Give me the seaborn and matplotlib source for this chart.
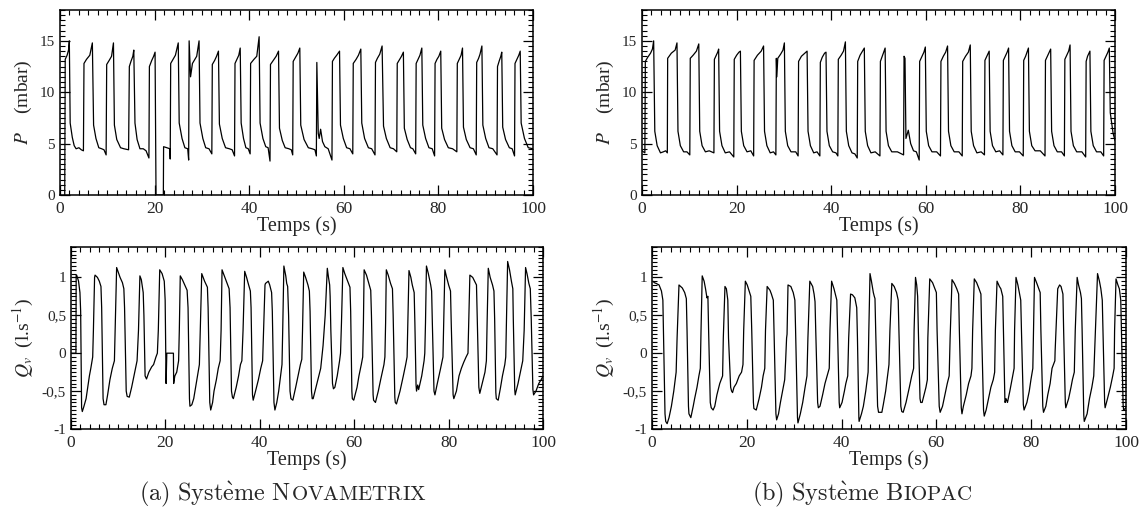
import matplotlib
matplotlib.use("Agg")
import matplotlib.pyplot as plt
from matplotlib.ticker import MultipleLocator, FuncFormatter
import seaborn as sns

# pressure, Novametrix system: (time s, P mbar) vertices
p_nova_pts = [
    (1.0, 0.0), (1.1, 13.2), (1.5, 13.6), (1.8, 14.1), (1.97, 15.0), (2.15, 7.0), (2.6, 5.6), (3.0, 4.8), (3.4, 4.5), (4.0, 4.6), (4.5, 4.4), (4.95, 4.3),
    (5.07, 12.8), (5.6, 13.2), (6.3, 13.6), (6.84, 14.8), (7.1, 6.8), (7.6, 5.5), (8.2, 4.6), (8.8, 4.5), (9.3, 4.4), (9.75, 3.9),
    (9.87, 12.7), (10.4, 13.1), (10.9, 13.5), (11.3, 14.8), (11.5, 6.8), (12.0, 5.4), (12.8, 4.6), (13.5, 4.5), (14.5, 4.4),
    (14.66, 12.5), (15.0, 13.0), (15.4, 13.5), (15.6, 14.1), (15.85, 7.0), (16.3, 5.4), (16.9, 4.5), (17.6, 4.5), (18.2, 4.3), (18.8, 3.6),
    (18.9, 12.5), (19.4, 13.1), (19.8, 13.5), (20.1, 13.9), (20.3, 0.0), (21.85, 0.0), (21.9, 4.7), (22.6, 4.6), (23.2, 4.5), (23.3, 3.5),
    (23.4, 12.8), (23.9, 13.2), (24.4, 13.6), (25.0, 14.8), (25.2, 7.0), (25.8, 5.5), (26.4, 4.6), (27.0, 4.5), (27.2, 3.4),
    (27.3, 15.0), (27.6, 11.5), (28.0, 12.8), (28.9, 13.5), (29.4, 15.0), (29.6, 7.0), (30.2, 5.5), (30.8, 4.6), (31.5, 4.5), (32.1, 4.0),
    (32.2, 12.7), (32.7, 13.1), (33.1, 13.5), (33.5, 14.0), (33.7, 6.9), (34.3, 5.5), (35.0, 4.6), (35.8, 4.5), (36.4, 4.4), (36.9, 3.8),
    (37.0, 12.8), (37.4, 13.2), (37.8, 13.6), (38.1, 14.3), (38.3, 7.0), (38.8, 5.5), (39.3, 4.6), (39.8, 4.5), (40.2, 4.0),
    (40.3, 12.8), (41.0, 13.2), (41.6, 13.5), (42.1, 15.4), (42.3, 7.0), (42.9, 5.5), (43.5, 4.7), (44.0, 4.6), (44.4, 3.3),
    (44.5, 12.7), (45.1, 13.1), (45.7, 13.5), (46.2, 14.0), (46.4, 6.5), (47.0, 5.3), (47.6, 4.6), (48.4, 4.5), (48.9, 4.4), (49.2, 3.9),
    (49.3, 13.0), (49.8, 13.4), (50.3, 13.8), (50.7, 14.3), (50.9, 6.8), (51.6, 5.4), (52.5, 4.6), (53.3, 4.5), (53.9, 4.4), (54.2, 3.8),
    (54.3, 12.9), (54.6, 6.0), (54.8, 5.5), (55.1, 6.4), (55.5, 5.2), (56.0, 4.7), (56.7, 4.5), (57.5, 3.4),
    (57.6, 13.0), (58.0, 13.3), (58.5, 13.6), (59.1, 14.0), (59.3, 6.8), (59.9, 5.5), (60.6, 4.6), (61.3, 4.5), (61.9, 4.0),
    (62.0, 12.8), (62.6, 13.2), (63.1, 13.6), (63.6, 14.2), (63.8, 7.0), (64.4, 5.5), (65.2, 4.6), (65.9, 4.5), (66.6, 3.9),
    (66.7, 12.9), (67.1, 13.3), (67.6, 13.7), (68.1, 14.5), (68.4, 6.7), (69.0, 5.5), (69.8, 4.6), (70.5, 4.5), (71.2, 4.2),
    (71.3, 12.8), (71.8, 13.2), (72.2, 13.5), (72.6, 13.9), (72.8, 6.5), (73.4, 5.4), (74.1, 4.6), (74.6, 4.5), (75.2, 4.0),
    (75.3, 12.8), (75.7, 13.2), (76.1, 13.6), (76.5, 14.3), (76.7, 6.8), (77.3, 5.5), (78.0, 4.6), (78.7, 4.5), (79.2, 3.8),
    (79.3, 12.8), (79.7, 13.2), (80.1, 13.5), (80.5, 14.0), (80.7, 6.5), (81.3, 5.4), (82.1, 4.6), (83.0, 4.5), (83.9, 4.2),
    (84.0, 12.8), (84.4, 13.2), (84.8, 13.6), (85.1, 14.3), (85.3, 6.6), (85.9, 5.4), (86.7, 4.6), (87.4, 4.5), (88.0, 3.9),
    (88.1, 12.9), (88.5, 13.3), (88.8, 13.7), (89.2, 14.5), (89.4, 6.8), (90.0, 5.5), (90.7, 4.6), (91.5, 4.5), (92.4, 3.9),
    (92.5, 12.5), (92.9, 13.1), (93.2, 13.5), (93.4, 13.9), (93.6, 6.6), (94.2, 5.4), (95.0, 4.6), (95.6, 4.5), (96.1, 3.8),
    (96.2, 12.8), (96.6, 13.2), (97.0, 13.6), (97.3, 14.0), (97.5, 7.0), (98.2, 5.5), (99.0, 4.6), (100.0, 4.5),
]

# pressure, Biopac system
p_bio_pts = [
    (0.0, 4.3), (0.3, 4.2), (0.6, 4.1), (0.7, 13.0), (1.2, 13.4), (1.8, 13.8), (2.2, 14.2), (2.46, 15.0), (2.7, 6.2), (3.2, 4.8), (3.9, 4.1), (4.5, 4.2), (5.0, 4.3), (5.35, 4.1),
    (5.42, 13.3), (6.2, 13.8), (7.0, 14.1), (7.39, 14.8), (7.6, 6.2), (8.1, 4.8), (8.8, 4.2), (9.5, 4.2), (10.1, 3.9),
    (10.2, 13.3), (10.8, 13.6), (11.5, 14.0), (12.0, 14.7), (12.2, 6.2), (12.7, 4.8), (13.4, 4.2), (14.2, 4.3), (15.2, 4.1),
    (15.3, 13.2), (15.7, 13.6), (16.0, 13.9), (16.2, 14.2), (16.4, 6.2), (16.9, 4.8), (17.6, 4.1), (18.5, 4.2), (19.4, 3.7),
    (19.5, 13.2), (20.0, 13.6), (20.5, 13.9), (20.8, 14.0), (21.0, 6.2), (21.5, 4.8), (22.2, 4.2), (23.0, 4.3), (23.6, 3.8),
    (23.7, 13.1), (24.4, 13.6), (25.2, 14.0), (25.7, 14.5), (25.9, 6.2), (26.4, 4.8), (27.1, 4.1), (27.8, 4.2), (28.3, 3.9),
    (28.4, 13.3), (28.5, 11.5), (28.7, 13.3), (29.3, 13.7), (29.8, 14.1), (30.1, 14.8), (30.3, 6.2), (30.8, 4.8), (31.5, 4.2), (32.5, 4.2), (33.0, 3.8),
    (33.1, 13.0), (33.7, 13.5), (34.4, 13.8), (34.9, 14.0), (35.1, 6.2), (35.6, 4.8), (36.3, 4.1), (37.0, 4.2), (37.6, 3.8),
    (37.7, 12.9), (38.1, 13.4), (38.6, 13.8), (38.9, 13.9), (39.1, 6.2), (39.6, 4.8), (40.3, 4.2), (41.0, 4.1), (41.4, 3.8),
    (41.5, 13.2), (42.1, 13.6), (42.6, 14.0), (43.0, 14.9), (43.2, 6.2), (43.7, 4.8), (44.4, 4.1), (45.0, 4.0), (45.5, 3.6),
    (45.6, 13.0), (46.1, 13.6), (46.6, 14.0), (47.0, 14.3), (47.2, 6.2), (47.7, 4.8), (48.4, 4.1), (49.3, 4.2), (50.3, 3.8),
    (50.4, 13.0), (50.8, 13.5), (51.1, 13.9), (51.4, 14.3), (51.6, 6.2), (52.1, 4.8), (52.8, 4.2), (54.0, 4.2), (55.3, 3.9),
    (55.4, 13.5), (55.6, 13.3), (55.8, 5.5), (56.3, 6.3), (56.8, 5.0), (57.4, 4.3), (58.0, 4.2), (58.6, 3.4),
    (58.7, 13.0), (59.2, 13.5), (59.6, 13.9), (59.9, 14.4), (60.1, 6.2), (60.6, 4.8), (61.3, 4.2), (62.3, 4.2), (63.1, 3.8),
    (63.2, 13.0), (63.7, 13.5), (64.2, 13.9), (64.6, 14.5), (64.8, 6.2), (65.3, 4.8), (66.0, 4.2), (67.0, 4.2), (67.7, 3.8),
    (67.8, 13.0), (68.4, 13.5), (69.0, 13.9), (69.4, 14.6), (69.6, 6.2), (70.1, 4.8), (70.8, 4.1), (71.7, 4.2), (72.4, 3.9),
    (72.5, 13.1), (72.9, 13.5), (73.2, 13.8), (73.4, 14.0), (73.6, 6.2), (74.1, 4.8), (74.8, 4.2), (75.6, 4.3), (76.3, 3.9),
    (76.4, 13.1), (76.8, 13.5), (77.2, 13.9), (77.5, 14.3), (77.7, 6.2), (78.2, 4.8), (78.9, 4.2), (79.8, 4.2), (80.6, 3.8),
    (80.7, 13.1), (81.1, 13.5), (81.4, 13.9), (81.7, 14.3), (81.9, 6.2), (82.4, 4.8), (83.1, 4.3), (84.2, 4.3), (85.2, 3.8),
    (85.3, 13.1), (85.7, 13.5), (86.1, 13.9), (86.4, 14.2), (86.6, 6.2), (87.1, 4.8), (87.8, 4.2), (88.7, 4.2), (89.3, 3.8),
    (89.4, 13.2), (89.8, 13.6), (90.2, 14.0), (90.5, 14.6), (90.7, 6.2), (91.2, 4.8), (91.9, 4.2), (93.0, 4.2), (93.8, 3.7),
    (93.9, 13.0), (94.2, 13.5), (94.5, 13.8), (94.7, 14.0), (94.9, 6.2), (95.4, 4.8), (96.1, 4.2), (97.0, 4.2), (97.6, 3.8),
    (97.7, 13.1), (98.1, 13.5), (98.5, 13.9), (98.8, 14.3), (99.0, 8.0), (99.6, 6.0), (100.0, 5.3),
]

# flow, Novametrix system: (time s, Qv l/s)
q_nova_pts = [
    (0.0, 0.0), (1.05, 0.0), (1.1, 1.03), (1.2, 1.03), (1.6, 0.95), (1.9, 0.8), (2.05, 0.55), (2.25, -0.72), (2.4, -0.77), (2.75, -0.7), (3.2, -0.6), (3.55, -0.45), (3.9, -0.3), (4.2, -0.2), (4.6, -0.05), (4.75, 0.3), (5.0, 1.0),
    (5.1, 1.03), (5.6, 1.0), (6.0, 0.95), (6.35, 0.88), (6.5, 0.6), (6.8, -0.6), (7.0, -0.68), (7.4, -0.68), (7.76, -0.55), (8.25, -0.35), (8.75, -0.2), (9.2, -0.1), (9.35, 0.3), (9.67, 1.13),
    (10.4, 1.0), (10.9, 0.93), (11.2, 0.85), (11.35, 0.6), (11.7, -0.5), (11.9, -0.57), (12.35, -0.58), (12.85, -0.45), (13.5, -0.25), (14.0, -0.1), (14.3, 0.3), (14.6, 1.02),
    (14.9, 0.97), (15.3, 0.8), (15.45, 0.5), (15.7, -0.3), (16.0, -0.34), (16.5, -0.25), (17.1, -0.18), (17.5, -0.15), (18.0, -0.05), (18.3, 0.0), (18.5, 0.3), (18.8, 1.1),
    (19.3, 1.05), (19.76, 0.95), (19.95, 0.7), (20.15, -0.4), (20.3, 0.0), (21.7, 0.0), (21.75, -0.4), (22.0, -0.3), (22.4, -0.25), (22.8, -0.1), (22.95, 0.3), (23.15, 1.02),
    (23.6, 0.97), (24.1, 0.9), (24.6, 0.83), (24.8, 0.6), (25.1, -0.6), (25.2, -0.7), (25.6, -0.68), (26.0, -0.6), (26.4, -0.45), (26.8, -0.3), (27.2, -0.15), (27.4, 0.35), (27.7, 1.05),
    (28.3, 0.95), (28.9, 0.87), (29.05, 0.6), (29.4, -0.65), (29.6, -0.75), (30.0, -0.65), (30.3, -0.5), (30.8, -0.35), (31.2, -0.2), (31.6, -0.1), (31.8, 0.3), (32.0, 1.1),
    (32.6, 1.0), (33.2, 0.9), (33.5, 0.85), (33.7, 0.6), (34.0, -0.5), (34.2, -0.58), (34.4, -0.6), (35.0, -0.45), (35.5, -0.3), (35.9, -0.15), (36.2, -0.1), (36.45, 0.3), (36.8, 1.08),
    (37.2, 1.0), (37.5, 0.93), (38.0, 0.82), (38.15, 0.6), (38.45, -0.55), (38.6, -0.62), (39.1, -0.5), (39.7, -0.35), (40.2, -0.2), (40.6, -0.1), (40.8, 0.3), (41.1, 0.9),
    (41.2, 0.92), (41.8, 0.95), (42.1, 0.9), (42.5, 0.8), (42.65, 0.55), (43.0, -0.65), (43.2, -0.75), (43.6, -0.65), (44.0, -0.5), (44.4, -0.3), (44.7, -0.15), (44.85, 0.3), (45.1, 1.15),
    (45.5, 1.02), (45.7, 0.92), (45.9, 0.88), (46.1, 0.5), (46.4, -0.5), (46.6, -0.6), (47.0, -0.62), (47.6, -0.45), (48.1, -0.3), (48.6, -0.15), (48.9, -0.08), (49.05, 0.3), (49.3, 1.07),
    (49.7, 1.0), (50.2, 0.9), (50.5, 0.82), (50.65, 0.55), (50.95, -0.5), (51.1, -0.6), (51.3, -0.6), (52.1, -0.4), (52.9, -0.2), (53.4, 0.1), (53.85, 0.5), (54.3, 1.12),
    (54.55, 1.0), (54.8, 0.9), (54.9, 0.75), (55.05, 0.3), (55.4, -0.4), (55.6, -0.47), (55.9, -0.45), (56.4, -0.3), (56.9, -0.1), (57.1, 0.0), (57.3, 0.4), (57.6, 1.13),
    (58.0, 1.05), (58.6, 0.95), (59.1, 0.87), (59.25, 0.55), (59.5, -0.5), (59.6, -0.6), (59.9, -0.62), (60.6, -0.45), (61.0, -0.3), (61.5, -0.15), (61.8, -0.05), (61.95, 0.4), (62.1, 1.1),
    (62.6, 1.03), (63.2, 0.9), (63.5, 0.83), (63.65, 0.5), (64.0, -0.55), (64.1, -0.62), (64.5, -0.65), (65.1, -0.5), (65.6, -0.35), (66.3, -0.15), (66.5, -0.05), (66.65, 0.4), (66.8, 1.1),
    (67.2, 1.03), (67.7, 0.92), (68.1, 0.85), (68.25, 0.5), (68.6, -0.58), (68.7, -0.65), (68.95, -0.67), (69.7, -0.5), (70.4, -0.3), (70.9, -0.15), (71.2, -0.05), (71.35, 0.4), (71.6, 1.09),
    (72.0, 1.0), (72.3, 0.9), (72.7, 0.8), (72.85, 0.4), (73.1, -0.42), (73.2, -0.5), (73.45, -0.42), (73.65, -0.48), (74.3, -0.3), (74.8, -0.1), (74.95, 0.0), (75.1, 0.4), (75.3, 1.15),
    (75.7, 1.05), (76.2, 0.9), (76.4, 0.82), (76.55, 0.4), (76.9, -0.5), (77.1, -0.55), (77.6, -0.4), (78.3, -0.2), (78.8, -0.05), (78.95, 0.4), (79.2, 1.1),
    (79.5, 1.02), (80.0, 0.9), (80.4, 0.82), (80.55, 0.4), (80.95, -0.55), (81.1, -0.6), (81.65, -0.5), (82.2, -0.3), (82.7, -0.2), (83.2, -0.12), (83.7, -0.05), (84.1, 0.0), (84.3, 0.5), (84.5, 1.03),
    (85.1, 1.0), (85.5, 0.95), (85.9, 0.9), (86.05, 0.5), (86.4, -0.45), (86.6, -0.53), (87.1, -0.4), (87.7, -0.25), (88.0, -0.1), (88.15, 0.4), (88.4, 1.12),
    (88.8, 1.0), (89.3, 0.9), (89.6, 0.82), (89.75, 0.45), (90.0, -0.52), (90.1, -0.6), (90.5, -0.62), (91.0, -0.45), (91.4, -0.3), (91.9, -0.15), (92.1, -0.05), (92.25, 0.4), (92.5, 1.21),
    (92.9, 1.1), (93.3, 0.95), (93.6, 0.85), (93.7, 0.45), (94.0, -0.48), (94.1, -0.55), (94.7, -0.4), (95.2, -0.25), (95.7, -0.1), (96.0, 0.3), (96.3, 1.13),
    (96.6, 1.05), (97.0, 0.92), (97.3, 0.85), (97.5, 0.45), (97.85, -0.48), (98.0, -0.55), (98.5, -0.5), (99.1, -0.4), (99.6, -0.35), (100.0, -0.3),
]

# flow, Biopac system
q_bio_pts = [
    (0.2, 0.95), (0.5, 0.93), (0.9, 0.92), (1.5, 0.9), (2.0, 0.82), (2.3, 0.7), (2.45, 0.2), (2.75, -0.8), (2.9, -0.9), (3.2, -0.93), (3.6, -0.85), (4.1, -0.7), (4.6, -0.5), (4.8, -0.4), (5.1, -0.25), (5.3, 0.2), (5.7, 0.9),
    (6.4, 0.86), (6.9, 0.8), (7.25, 0.72), (7.4, 0.3), (7.7, -0.7), (7.8, -0.8), (8.2, -0.85), (8.7, -0.7), (9.0, -0.6), (9.5, -0.45), (9.9, -0.3), (10.2, -0.2), (10.35, 0.3), (10.6, 1.02),
    (11.0, 0.95), (11.3, 0.85), (11.6, 0.73), (11.8, 0.75), (11.95, 0.3), (12.3, -0.65), (12.5, -0.72), (12.9, -0.75), (13.25, -0.7), (13.7, -0.55), (14.3, -0.4), (14.9, -0.3), (15.05, 0.2), (15.4, 0.88),
    (15.7, 0.85), (16.0, 0.7), (16.15, 0.2), (16.6, -0.45), (16.8, -0.5), (17.0, -0.52), (17.3, -0.45), (17.8, -0.4), (18.4, -0.3), (18.9, -0.25), (19.2, -0.15), (19.35, 0.3), (19.7, 0.95),
    (20.1, 0.9), (20.6, 0.8), (20.85, 0.75), (21.05, 0.3), (21.4, -0.65), (21.5, -0.73), (22.0, -0.75), (22.6, -0.6), (23.1, -0.45), (23.45, -0.3), (23.8, -0.2), (23.95, 0.3), (24.3, 0.88),
    (24.9, 0.83), (25.2, 0.78), (25.6, 0.7), (25.75, 0.3), (26.15, -0.8), (26.3, -0.88), (26.7, -0.8), (27.1, -0.65), (27.7, -0.45), (28.0, -0.35), (28.2, -0.1), (28.4, 0.2), (28.5, 0.25), (28.7, 0.9),
    (29.3, 0.88), (29.8, 0.8), (30.15, 0.7), (30.3, 0.3), (30.7, -0.85), (30.8, -0.92), (31.3, -0.8), (31.8, -0.65), (32.3, -0.45), (32.7, -0.3), (32.9, 0.2), (33.3, 0.95),
    (33.9, 0.88), (34.2, 0.78), (34.4, 0.68), (34.55, 0.3), (34.95, -0.65), (35.1, -0.72), (35.45, -0.7), (36.0, -0.55), (36.5, -0.4), (36.95, -0.3), (37.4, -0.2), (37.55, 0.3), (37.9, 0.95),
    (38.4, 0.85), (38.8, 0.75), (39.0, 0.7), (39.15, 0.3), (39.5, -0.65), (39.6, -0.72), (40.1, -0.65), (40.6, -0.5), (40.9, -0.4), (41.3, -0.3), (41.5, 0.2), (41.9, 0.78),
    (42.3, 0.77), (42.8, 0.73), (43.2, 0.6), (43.35, 0.2), (43.65, -0.85), (43.7, -0.9), (44.2, -0.8), (44.6, -0.7), (45.1, -0.5), (45.4, -0.35), (45.6, -0.25), (45.75, 0.3), (46.0, 1.05),
    (46.3, 0.95), (46.7, 0.8), (46.9, 0.75), (47.05, 0.72), (47.2, 0.3), (47.6, -0.7), (47.8, -0.78), (48.5, -0.78), (48.8, -0.68), (49.3, -0.5), (49.7, -0.3), (50.0, -0.15), (50.2, 0.3), (50.6, 0.92),
    (51.1, 0.88), (51.6, 0.8), (51.95, 0.7), (52.1, 0.3), (52.5, -0.7), (52.7, -0.77), (53.0, -0.78), (53.6, -0.65), (54.3, -0.45), (54.8, -0.3), (55.2, -0.2), (55.3, 0.3), (55.6, 1.0),
    (55.85, 0.9), (56.05, 0.75), (56.2, 0.3), (56.55, -0.6), (56.7, -0.65), (57.0, -0.65), (57.4, -0.55), (57.8, -0.45), (58.1, -0.35), (58.2, 0.2), (58.6, 0.98),
    (59.2, 0.93), (59.7, 0.85), (60.0, 0.8), (60.15, 0.3), (60.6, -0.7), (60.8, -0.78), (61.3, -0.7), (61.8, -0.55), (62.3, -0.4), (62.7, -0.3), (62.9, 0.2), (63.3, 0.97),
    (63.8, 0.92), (64.3, 0.85), (64.7, 0.78), (64.85, 0.3), (65.25, -0.72), (65.4, -0.8), (65.7, -0.7), (66.3, -0.55), (66.8, -0.4), (67.3, -0.3), (67.5, -0.2), (67.65, 0.3), (68.0, 0.98),
    (68.5, 0.93), (69.0, 0.85), (69.4, 0.78), (69.55, 0.3), (69.95, -0.75), (70.1, -0.83), (70.5, -0.75), (71.0, -0.6), (71.5, -0.45), (72.0, -0.35), (72.3, -0.25), (72.45, 0.3), (72.8, 0.95),
    (73.3, 0.88), (73.6, 0.85), (74.0, 0.75), (74.15, 0.3), (74.45, -0.6), (74.5, -0.65), (74.7, -0.6), (75.0, -0.65), (75.5, -0.5), (76.1, -0.3), (76.4, -0.2), (76.5, 0.3), (76.8, 1.0),
    (77.2, 0.9), (77.5, 0.8), (77.8, 0.7), (77.95, 0.3), (78.35, -0.68), (78.5, -0.75), (79.1, -0.65), (79.6, -0.5), (79.95, -0.35), (80.35, -0.2), (80.5, 0.3), (80.7, 1.0),
    (81.2, 0.92), (81.6, 0.85), (81.9, 0.8), (82.05, 0.3), (82.45, -0.7), (82.6, -0.78), (83.1, -0.7), (83.5, -0.55), (84.0, -0.4), (84.4, -0.2), (85.0, -0.1), (85.05, 0.02), (85.6, 0.85), (86.0, 0.9),
    (86.3, 0.88), (86.7, 0.78), (86.85, 0.3), (87.2, -0.65), (87.3, -0.72), (87.9, -0.6), (88.4, -0.45), (88.7, -0.35), (89.1, -0.25), (89.3, 0.3), (89.7, 1.0),
    (90.0, 0.9), (90.4, 0.8), (90.6, 0.72), (90.75, 0.3), (91.1, -0.82), (91.2, -0.9), (91.8, -0.8), (92.3, -0.6), (92.8, -0.45), (93.2, -0.3), (93.5, 0.2), (94.0, 1.05),
    (94.4, 0.95), (94.7, 0.85), (95.0, 0.7), (95.15, 0.3), (95.5, -0.65), (95.6, -0.72), (96.1, -0.6), (96.7, -0.45), (97.2, -0.3), (97.5, -0.2), (97.6, 0.3), (97.9, 0.98),
    (98.3, 0.9), (98.6, 0.85), (98.9, 0.7), (99.05, 0.3), (99.4, -0.68), (99.5, -0.75), (100.0, -0.72),
]

x_ticks = [0, 20, 40, 60, 80, 100]
p_ticks = [0, 5, 10, 15]
q_ticks = [-1, -0.5, 0, 0.5, 1]

sns.set_style("ticks")
plt.rcParams["font.family"] = ["Liberation Serif", "DejaVu Serif"]
plt.rcParams["mathtext.fontset"] = "stix"

fig = plt.figure(figsize=(11.43, 5.11), dpi=100)

comma = FuncFormatter(lambda v, pos: f"{v:g}".replace(".", ","))


def draw_panel(rect, pts, ylim, yticks, yminor, ylabel, ylabelpad):
    ax = fig.add_axes(rect)
    t, v = zip(*pts)
    sns.lineplot(x=list(t), y=list(v), ax=ax, color="black", linewidth=0.9,
                 sort=False, estimator=None)
    ax.set_xlim(0, 100)
    ax.set_ylim(*ylim)
    ax.set_xticks(x_ticks)
    ax.xaxis.set_minor_locator(MultipleLocator(2))
    ax.set_yticks(yticks)
    ax.yaxis.set_minor_locator(MultipleLocator(yminor))
    ax.yaxis.set_major_formatter(comma)
    ax.tick_params(which="both", direction="in", top=True, right=True, color="black")
    ax.tick_params(axis="x", labelsize=12.5, pad=4)
    ax.tick_params(axis="y", labelsize=11, pad=3.5)
    ax.tick_params(which="major", length=7, width=0.9)
    ax.tick_params(which="minor", length=3.5, width=0.8)
    for s in ax.spines.values():
        s.set_linewidth(1.1)
        s.set_color("black")
    ax.set_xlabel("Temps (s)", fontsize=14.5, labelpad=0)
    ax.set_ylabel(ylabel, fontsize=14, labelpad=ylabelpad)
    return ax


draw_panel([0.0525, 0.6184, 0.4138, 0.362], p_nova_pts, (0, 18), p_ticks, 0.5,
           r"$P$    (mbar)", 4)
draw_panel([0.5617, 0.6184, 0.4138, 0.362], p_bio_pts, (0, 18), p_ticks, 0.5,
           r"$P$    (mbar)", 4)
draw_panel([0.0621, 0.1605, 0.4130, 0.356], q_nova_pts, (-1, 1.4), q_ticks, 0.05,
           r"$Q_v$  (l.s$^{-1}$)", 4)
draw_panel([0.5704, 0.1605, 0.4147, 0.356], q_bio_pts, (-1, 1.4), q_ticks, 0.05,
           r"$Q_v$  (l.s$^{-1}$)", 4)

# captions: Computer Modern, with fake small caps
renderer = fig.canvas.get_renderer()
W = fig.bbox.width


def caption(xc, parts, y=0.0215):
    texts = [fig.text(0, y, s, fontsize=size, ha="left", va="baseline",
                      math_fontfamily="cm") for s, size in parts]
    widths = [t.get_window_extent(renderer).width for t in texts]
    x = xc * W - sum(widths) / 2
    for t, w in zip(texts, widths):
        t.set_x(x / W)
        x += w


caption(283 / 1143, [(r"$\mathrm{(a)\ Syst\grave{e}me\ N}$", 17.5),
                     (r"$\mathrm{OVAMETRIX}$", 15)])
caption(862 / 1143, [(r"$\mathrm{(b)\ Syst\grave{e}me\ B}$", 17.5),
                     (r"$\mathrm{IOPAC}$", 15)])

fig.savefig("out.png", dpi=100)
